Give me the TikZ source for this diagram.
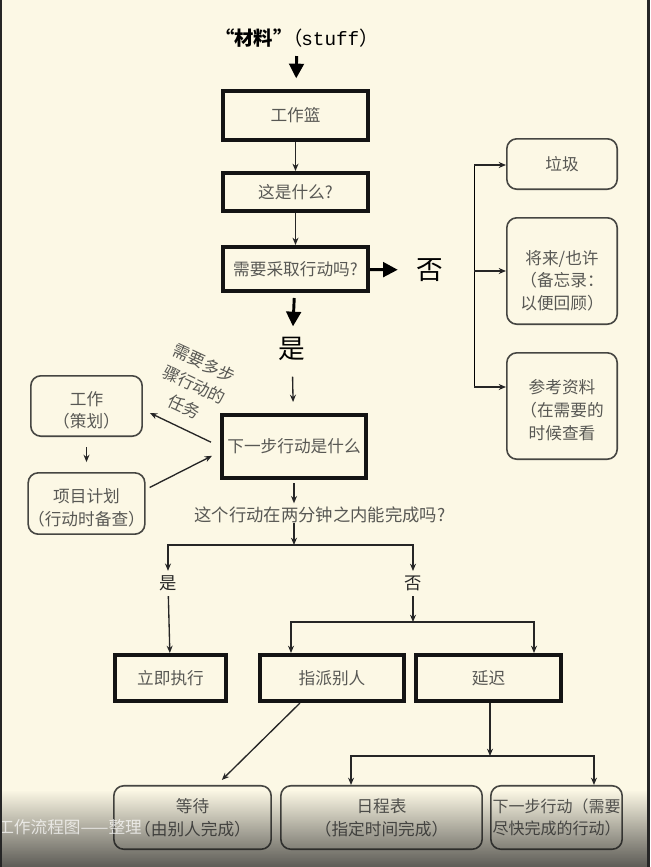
\documentclass[tikz,border=0pt]{standalone}
\usepackage{fontspec}
\setmainfont{Noto Sans CJK SC}
\setmonofont{Liberation Mono}
\usetikzlibrary{arrows.meta,fadings}
\definecolor{paper}{RGB}{252,248,229}
\definecolor{boxtext}{RGB}{88,88,84}
\definecolor{edge}{RGB}{70,70,66}
\tikzfading[name=shadowup, top color=transparent!100, bottom color=transparent!0]
\newcommand{\lowstrut}[1]{\rule{0pt}{#1}}
\begin{document}
\begin{tikzpicture}[x=0.75pt,y=-0.75pt,
    thickbox/.style={draw=black!92,line width=3pt,text=boxtext,inner sep=0pt,
      minimum width=108.75pt,font=\fontsize{12.5}{15}\selectfont},
    softbox/.style={draw=edge,line width=1.2pt,rounded corners=7.5pt,text=boxtext,
      inner sep=0pt,align=center,font=\fontsize{12.5}{17}\selectfont},
    arr/.style={draw=black!85,line width=1pt,-{Stealth[length=5.5pt,width=4.5pt]}},
    bigarr/.style={line width=2.2pt,-{Triangle[length=11pt,width=11pt]}},
    bigword/.style={inner sep=0pt,font=\fontsize{20}{24}\selectfont},
    smallword/.style={inner sep=0pt,text=black!85,font=\fontsize{13}{15}\selectfont}]
  \fill[paper] (0,0) rectangle (650,867);
  \useasboundingbox (0,0) rectangle (650,867);

  % main column
  \node (title) at (297,38) {\fontsize{14.5}{16}\selectfont\textbf{“材料”}\hspace{-7pt}（\hspace{-1pt}\texttt{stuff}）};
  \node[thickbox,minimum height=36.75pt] (inbox) at (295.5,115.5) {工作篮};
  \node[thickbox,minimum height=28.5pt] (what) at (295.5,192) {这是什么?};
  \node[thickbox,minimum height=33pt] (action) at (295.5,269) {需要采取行动吗?};
  \node[bigword] (no1) at (430,270) {否};
  \node[bigword] (yes1) at (292,349) {是};
  \node[thickbox,minimum width=108pt,minimum height=47.25pt] (nextq) at (294,446.5) {下一步行动是什么};
  \node[inner sep=0pt,text=boxtext,font=\fontsize{13}{15}\selectfont] (question) at (320,515) {这个行动在两分钟之内能完成吗?};

  % right column
  \node[softbox,minimum width=82.8pt,minimum height=37.8pt] (trash) at (562,164) {垃圾};
  \node[softbox,minimum width=82.8pt,minimum height=79.8pt] (someday) at (562,271) {\lowstrut{25pt}将来/也许\\（备忘录：\\以便回顾）};
  \node[softbox,minimum width=82.8pt,minimum height=79.8pt] (reference) at (562,406) {\lowstrut{17pt}参考资料\\（在需要的\\时候查看};

  % left column
  \node[softbox,minimum width=83.5pt,minimum height=45.3pt] (project) at (86.5,406) {\lowstrut{17pt}工作\\（策划）};
  \node[softbox,minimum width=83.5pt,minimum height=46pt] (plan) at (86.5,503.5) {\lowstrut{17pt}项目计划\\（行动时备查）};
  \node[rotate=-25,align=center,text=boxtext,font=\fontsize{12.5}{18}\selectfont] (multi) at (194,385) {需要多步\\骤行动的\\任务};

  % two minute branch
  \node[smallword] (yes2) at (168,583) {是};
  \node[smallword] (no2) at (413,583) {否};
  \node[thickbox,minimum width=83.25pt,minimum height=34.5pt] (doit) at (170.5,678) {立即执行};
  \node[thickbox,minimum width=108pt,minimum height=34.5pt] (delegate) at (332,678) {指派别人};
  \node[thickbox,minimum height=34.5pt] (defer) at (488.5,678) {延迟};
  \node[softbox,minimum width=118pt,minimum height=47.6pt] (waiting) at (192.5,817.5) {等待\\（由别人完成）};
  \node[softbox,minimum width=151pt,minimum height=47.6pt] (calendar) at (381.5,817.5) {日程表\\（指定时间完成）};
  \node[softbox,minimum width=98.5pt,minimum height=47.6pt,font=\fontsize{12}{17}\selectfont] (nextlist) at (556.5,817.5) {下一步行动（需要\\尽快完成的行动）};

  \coordinate (railtop) at (474,165);
  \coordinate (railbot) at (474,387);
  \coordinate (split) at (294,545);
  \coordinate (split2) at (413,622);
  \coordinate (split3) at (490,756);

  % connectors
  \draw[bigarr,shorten <=3pt,shorten >=8pt] (title) -- (inbox);
  \draw[arr] (inbox) -- (what);
  \draw[arr] (what) -- (action);
  \draw[bigarr,shorten >=14pt] (action) -- (no1);
  \draw[bigarr,shorten <=3.75pt,shorten >=8pt] (action) -- (yes1);
  \draw[arr,shorten <=11.8pt,shorten >=8.25pt] (yes1) -- (nextq);
  \draw[arr,shorten <=2.25pt,shorten >=2.5pt] (nextq.south) -- (nextq.south |- question.north);
  \draw[arr] (question.south -| split) -- (split);

  \draw (railtop) -- (railbot);
  \draw[arr] (railtop) -- (railtop -| trash.west);
  \draw[arr] (railtop |- someday.west) -- (someday.west);
  \draw[arr] (railbot) -- (railbot -| reference.west);

  \draw[arr,shorten <=7.5pt] (nextq.west) -- ([shift={(5.25pt,-5.25pt)}]project.east);
  \draw[arr] ([shift={(3pt,12pt)}]plan.east) -- ([shift={(-6pt,-7pt)}]nextq.west);
  \draw[arr,shorten <=7.5pt,shorten >=7.5pt] (project) -- (plan);

  \draw[arr,shorten >=3.2pt] (split) -| (yes2);
  \draw[arr,shorten <=4pt] (yes2) -- (doit);
  \draw[arr,shorten >=3.2pt] (split) -| (no2);
  \draw[arr,shorten <=4pt] (no2) -- (split2);
  \draw[arr] (split2) -| ([xshift=24.75pt]delegate.north west);
  \draw[arr] (split2) -| ([xshift=-21.75pt]defer.north east);
  \draw[arr] ([xshift=31.5pt]delegate.south west) -- ([shift={(22pt,3.75pt)}]waiting.north);
  \draw[arr] (split3 |- defer.south) -- (split3);
  \draw[arr] (split3) -| ([xshift=53.25pt]calendar.north west);
  \draw[arr] (split3) -| ([xshift=-21.75pt]nextlist.north east);

  % scan shadow and edges
  \fill[black!90,opacity=0.7,path fading=shadowup] (0,790) rectangle (650,867);
  \node[anchor=west,inner sep=0pt,text=white,opacity=0.7,font=\fontsize{12.5}{15}\selectfont] (caption) at (-3,827) {工作流程图——整理};
  \fill[black!85] (0,0) rectangle (2,867);
  \fill[black!85] (647,0) rectangle (650,867);
\end{tikzpicture}
\end{document}
